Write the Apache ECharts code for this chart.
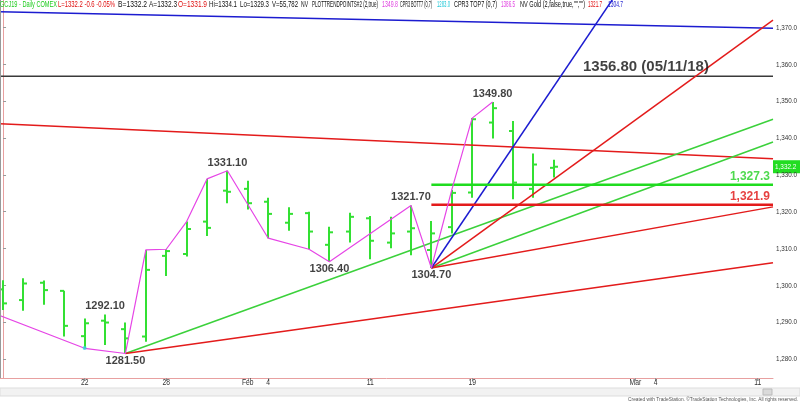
<!DOCTYPE html>
<html><head><meta charset="utf-8">
<script src="https://cdn.jsdelivr.net/npm/echarts@6/dist/echarts.min.js"></script>
<style>html,body{margin:0;padding:0;background:#fff}#c{width:800px;height:402px}</style>
</head><body><div id="c"></div>
<script>
// ---------------- DATA ----------------
const dates = ['2019-01-15','2019-01-16','2019-01-17','2019-01-18','2019-01-22','2019-01-23','2019-01-24','2019-01-25',
  '2019-01-28','2019-01-29','2019-01-30','2019-01-31','2019-02-01','2019-02-04','2019-02-05','2019-02-06','2019-02-07',
  '2019-02-08','2019-02-11','2019-02-12','2019-02-13','2019-02-14','2019-02-15','2019-02-19','2019-02-20','2019-02-21',
  '2019-02-22','2019-02-25','2019-02-26','2019-02-27','2019-02-28','2019-03-01','2019-03-04','2019-03-05','2019-03-06',
  '2019-03-07','2019-03-08','2019-03-11','2019-03-12'];
const opens  = [1298.9,1296.0,1300.7,1298.5,1286.2,1290.4,1288.1,1286.1,1308.0,1308.5,1317.3,1325.7,1326.2,1322.7,1317.0,1319.6,1311.0,1314.6,1318.2,1311.6,1314.6,1309.6,1315.8,1325.2,1344.2,1341.9,1326.2,1331.9];
const highs  = [1301.4,1301.9,1301.3,1298.5,1291.0,1292.1,1289.9,1309.6,1309.8,1317.3,1328.9,1331.1,1328.4,1323.8,1321.2,1320.0,1315.9,1319.7,1318.8,1318.6,1321.7,1317.5,1325.9,1345.4,1349.8,1344.6,1335.8,1334.1];
const lows   = [1293.3,1293.1,1294.7,1286.1,1282.9,1283.8,1281.5,1284.7,1302.5,1307.8,1313.4,1322.3,1320.6,1312.8,1314.8,1309.8,1306.4,1311.6,1307.1,1310.1,1308.2,1304.7,1314.1,1323.8,1339.9,1323.4,1323.8,1329.3];
const closes = [1295.1,1300.5,1298.7,1289.0,1289.7,1289.9,1285.6,1304.2,1309.3,1315.3,1315.6,1325.4,1322.3,1319.4,1319.4,1314.6,1314.4,1318.6,1312.1,1314.1,1315.5,1314.1,1325.1,1345.1,1348.1,1327.9,1332.8,1332.2];

// zig-zag (PLOTTRENDPOINTS) vertices: [bar index, price]
const zigzag = [[-1,1293.6],[4,1282.9],[6,1281.5],[7,1309.6],[8,1309.8],[9,1317.3],[10,1328.9],[11,1331.1],
  [13,1312.8],[15,1309.8],[16,1306.4],[20,1321.7],[21,1304.7],[22,1325.9],[23,1345.4],[24,1349.8]];
// swing labels: [bar index, price, side]
const swings = [[5,1292.10,'top'],[6,1281.50,'bottom'],[11,1331.10,'top'],[16,1306.40,'bottom'],
  [20,1321.70,'top'],[21,1304.70,'bottom'],[24,1349.80,'top']];
// trend lines: [[index, price],[index, price]]
const lineTop     = [[-0.15,1374.3],[37.75,1369.8]];
const lineDown    = [[-0.15,1343.9],[37.75,1334.4]];
const fanBlue     = [[21,1304.7],[30,1378.6]];
const fanRed      = [[21,1304.7],[37.75,1372.0]];
const fanGreen    = [[21,1304.7],[37.75,1338.9]];
const fanRedLow   = [[21,1304.7],[37.75,1321.3]];
const upGreen     = [[6,1281.5],[37.75,1345.1]];
const upRed       = [[6,1281.5],[37.75,1306.1]];
const resistance  = {price:1356.80, date:'05/11/18'};
const level1 = 1327.3, level2 = 1321.9, levelStart = 21;
const lastPrice = 1332.2, cprBott = 1283.0, cprBottIdx = 4;
const yTicks = [1280,1290,1300,1310,1320,1330,1340,1350,1360,1370];
const xTickLabels = [['2019-01-22','22'],['2019-01-28','28'],['2019-02-01','Feb'],['2019-02-04','4'],['2019-02-11','11'],
  ['2019-02-19','19'],['2019-03-01','Mar'],['2019-03-04','4'],['2019-03-11','11']];
const header = [['GCJ19 - Daily COMEX','g'],['L=1332.2 -0.6 -0.05%','r'],['B=1332.2','k'],['A=1332.3','k'],['O=1331.9','r'],
  ['Hi=1334.1','k'],['Lo=1329.3','k'],['V=55,782','k'],['NV','k'],['PLOTTRENDPOINTS#2 (2,true)','k'],['1349.8','m'],
  ['CPR3 BOTT7 (0,7)','k'],['1283.0','c'],['CPR3 TOP7 (0,7)','k'],['1386.5','m'],['NV Gold (2,false,true,"","")','k'],
  ['1321.7','r'],['1304.7','b']];
const footer = 'Created with TradeStation. \u00A9TradeStation Technologies, Inc. All rights reserved.';

// ---------------- STYLE ----------------
const C = {bar:'#33E033', pink:'#E645E6', red:'#E31B1B', green:'#3BD13B', greenH:'#1FDC1F', blue:'#1C1CD0',
  dark:'#3a3a3a', axis:'#E8A0A0', cyan:'#33D6E0'};
const hdrCol = {g:'#22CC22', r:'#E01010', k:'#111', m:'#E040E0', c:'#22C8D8', b:'#2020D0'};
const hdrPos = [[0,57],[58,115],[118,147],[149,177],[178,207],[209,237],[240,269],[272,298],[301,308],[312,378],[382,398],
  [400,432],[437,450],[454,497],[501,515],[520,585],[588,602],[608,623]];
const FONT = "'Liberation Sans', Arial, sans-serif";
const X0 = -0.15, X1 = 37.75, Y0 = 1274.84, Y1 = 1377.47;

const chart = echarts.init(document.getElementById('c'), null, {renderer:'canvas'});
const ohlc = opens.map((o,i)=>[i,o,closes[i],lows[i],highs[i]]);

function renderOHLC(params, api){
  const i = api.value(0);
  const o = api.coord([i, api.value(1)]), c = api.coord([i, api.value(2)]);
  const l = api.coord([i, api.value(3)]), h = api.coord([i, api.value(4)]);
  const x = Math.round(o[0]);
  const st = {stroke:C.bar, lineWidth:2};
  return {type:'group', children:[
    {type:'line', shape:{x1:x,y1:h[1],x2:x,y2:l[1]}, style:st},
    {type:'line', shape:{x1:x-4,y1:o[1],x2:x,y2:o[1]}, style:st},
    {type:'line', shape:{x1:x,y1:c[1],x2:x+4,y2:c[1]}, style:st}
  ]};
}
function seg(data, color, width, z){
  return {type:'line', data:data, symbol:'none', silent:true, animation:false, z:z||3,
    lineStyle:{color:color, width:width}, clip:true};
}
const xTickIdx = xTickLabels.map(t=>dates.indexOf(t[0]));

const option = {
  animation:false,
  backgroundColor:'#fff',
  grid:{left:0, right:27, top:0, bottom:24, containLabel:false},
  xAxis:{type:'value', min:X0, max:X1, axisLine:{lineStyle:{color:C.axis, width:1}},
    axisTick:{show:true, customValues:xTickIdx, length:3, lineStyle:{color:'#999'}},
    axisLabel:{show:false}, splitLine:{show:false}},
  yAxis:{type:'value', position:'right', min:Y0, max:Y1, axisLine:{show:true, lineStyle:{color:C.axis, width:1}},
    axisTick:{show:true, customValues:yTicks, length:3, lineStyle:{color:'#999'}},
    axisLabel:{show:false}, splitLine:{show:false}},
  series:[
    {type:'custom', renderItem:renderOHLC, data:ohlc, encode:{x:0, y:[1,2,3,4]}, z:2, clip:true},
    seg([[X0,resistance.price],[X1,resistance.price]], C.dark, 1.5),
    seg(lineTop, C.blue, 1.5),
    seg(lineDown, C.red, 1.5),
    seg(upGreen, C.green, 1.5),
    seg(upRed, C.red, 1.5),
    seg(fanGreen, C.green, 1.5),
    seg(fanRedLow, C.red, 1.5),
    seg(fanRed, C.red, 1.5),
    seg(fanBlue, C.blue, 1.5),
    seg([[levelStart,level1],[X1,level1]], C.greenH, 2.5),
    seg([[levelStart,level2],[X1,level2]], C.red, 2.5),
    seg(zigzag, C.pink, 1.2, 4),
    {type:'scatter', data:[[cprBottIdx,cprBott]], symbolSize:4, itemStyle:{color:C.cyan}, z:5, silent:true},
    {type:'scatter', silent:true, z:6, symbolSize:1, itemStyle:{color:'rgba(0,0,0,0)'},
      data:swings.map(s=>({value:[s[0],s[1]], label:{show:true, position:s[2], distance:s[2]==='top'?2:1,
        formatter:s[1].toFixed(2), fontFamily:FONT, fontWeight:'bold', fontSize:11, color:'#111'}}))},
    {type:'scatter', silent:true, z:6, symbolSize:1, itemStyle:{color:'rgba(0,0,0,0)'},
      data:[{value:[31.52,resistance.price], label:{show:true, position:'top', distance:1,
        formatter:resistance.price.toFixed(2)+' ('+resistance.date+')', fontFamily:FONT, fontWeight:'bold', fontSize:15, color:'#111'}},
        {value:[37.6,level1], label:{show:true, position:'top', distance:2, align:'right',
        formatter:level1.toLocaleString('en-US',{minimumFractionDigits:1}), fontFamily:FONT, fontWeight:'bold', fontSize:12, color:'#22D022'}},
        {value:[37.6,level2], label:{show:true, position:'top', distance:1.5, align:'right',
        formatter:level2.toLocaleString('en-US',{minimumFractionDigits:1}), fontFamily:FONT, fontWeight:'bold', fontSize:12, color:'#E01010'}}]}
  ]
};
chart.setOption(option);

// ---------- condensed texts (axis labels, header, footer) ----------
const mctx = document.createElement('canvas').getContext('2d');
function textW(t, font){ mctx.font = font; return mctx.measureText(t).width; }
const g = [];
header.forEach((h,i)=>{
  const f = '9px ' + FONT;
  const w = hdrPos[i][1]-hdrPos[i][0];
  g.push({type:'text', x:hdrPos[i][0], y:5, scaleX:w/textW(h[0],f), z:100,
    style:{text:h[0], font:f, fill:hdrCol[h[1]], textAlign:'left', textVerticalAlign:'middle'}});
});
yTicks.forEach(v=>{
  const p = chart.convertToPixel({gridIndex:0}, [X1, v]);
  const t = v.toLocaleString('en-US',{minimumFractionDigits:1});
  const f = '8px ' + FONT;
  g.push({type:'text', x:p[0]+3, y:p[1], scaleX:21/textW('1,370.0',f), z:100,
    style:{text:t, font:f, fill:'#333', textAlign:'left', textVerticalAlign:'middle'}});
});
xTickLabels.forEach((t,i)=>{
  const p = chart.convertToPixel({gridIndex:0}, [xTickIdx[i], Y0]);
  g.push({type:'text', x:p[0], y:383, scaleX:0.75, z:100,
    style:{text:t[1], font:'9px '+FONT, fill:'#333', textAlign:'center', textVerticalAlign:'middle'}});
});
const lp = chart.convertToPixel({gridIndex:0}, [X1, lastPrice]);
g.push({type:'rect', shape:{x:lp[0], y:lp[1]-6.5, width:27, height:13}, style:{fill:'#22DD22'}, z:99});
g.push({type:'text', x:lp[0]+2, y:lp[1], scaleX:0.8, z:101,
  style:{text:lastPrice.toLocaleString('en-US',{minimumFractionDigits:1}), font:'8px '+FONT, fill:'#fff', textAlign:'left', textVerticalAlign:'middle'}});
g.push({type:'rect', shape:{x:0, y:388, width:800, height:8}, style:{fill:'#F2F2F2', stroke:'#DDD', lineWidth:1}, z:90});
g.push({type:'rect', shape:{x:763, y:389, width:9, height:6}, style:{fill:'#DADADA', stroke:'#BBB', lineWidth:1}, z:91});
g.push({type:'text', x:798, y:399, scaleX:0.8, z:100,
  style:{text:footer, font:'6px '+FONT, fill:'#555', textAlign:'right', textVerticalAlign:'middle'}});
g.push({type:'line', shape:{x1:0.5,y1:0,x2:0.5,y2:378}, style:{stroke:'#999', lineWidth:1}, z:90});
chart.setOption({graphic:g});
</script></body></html>
